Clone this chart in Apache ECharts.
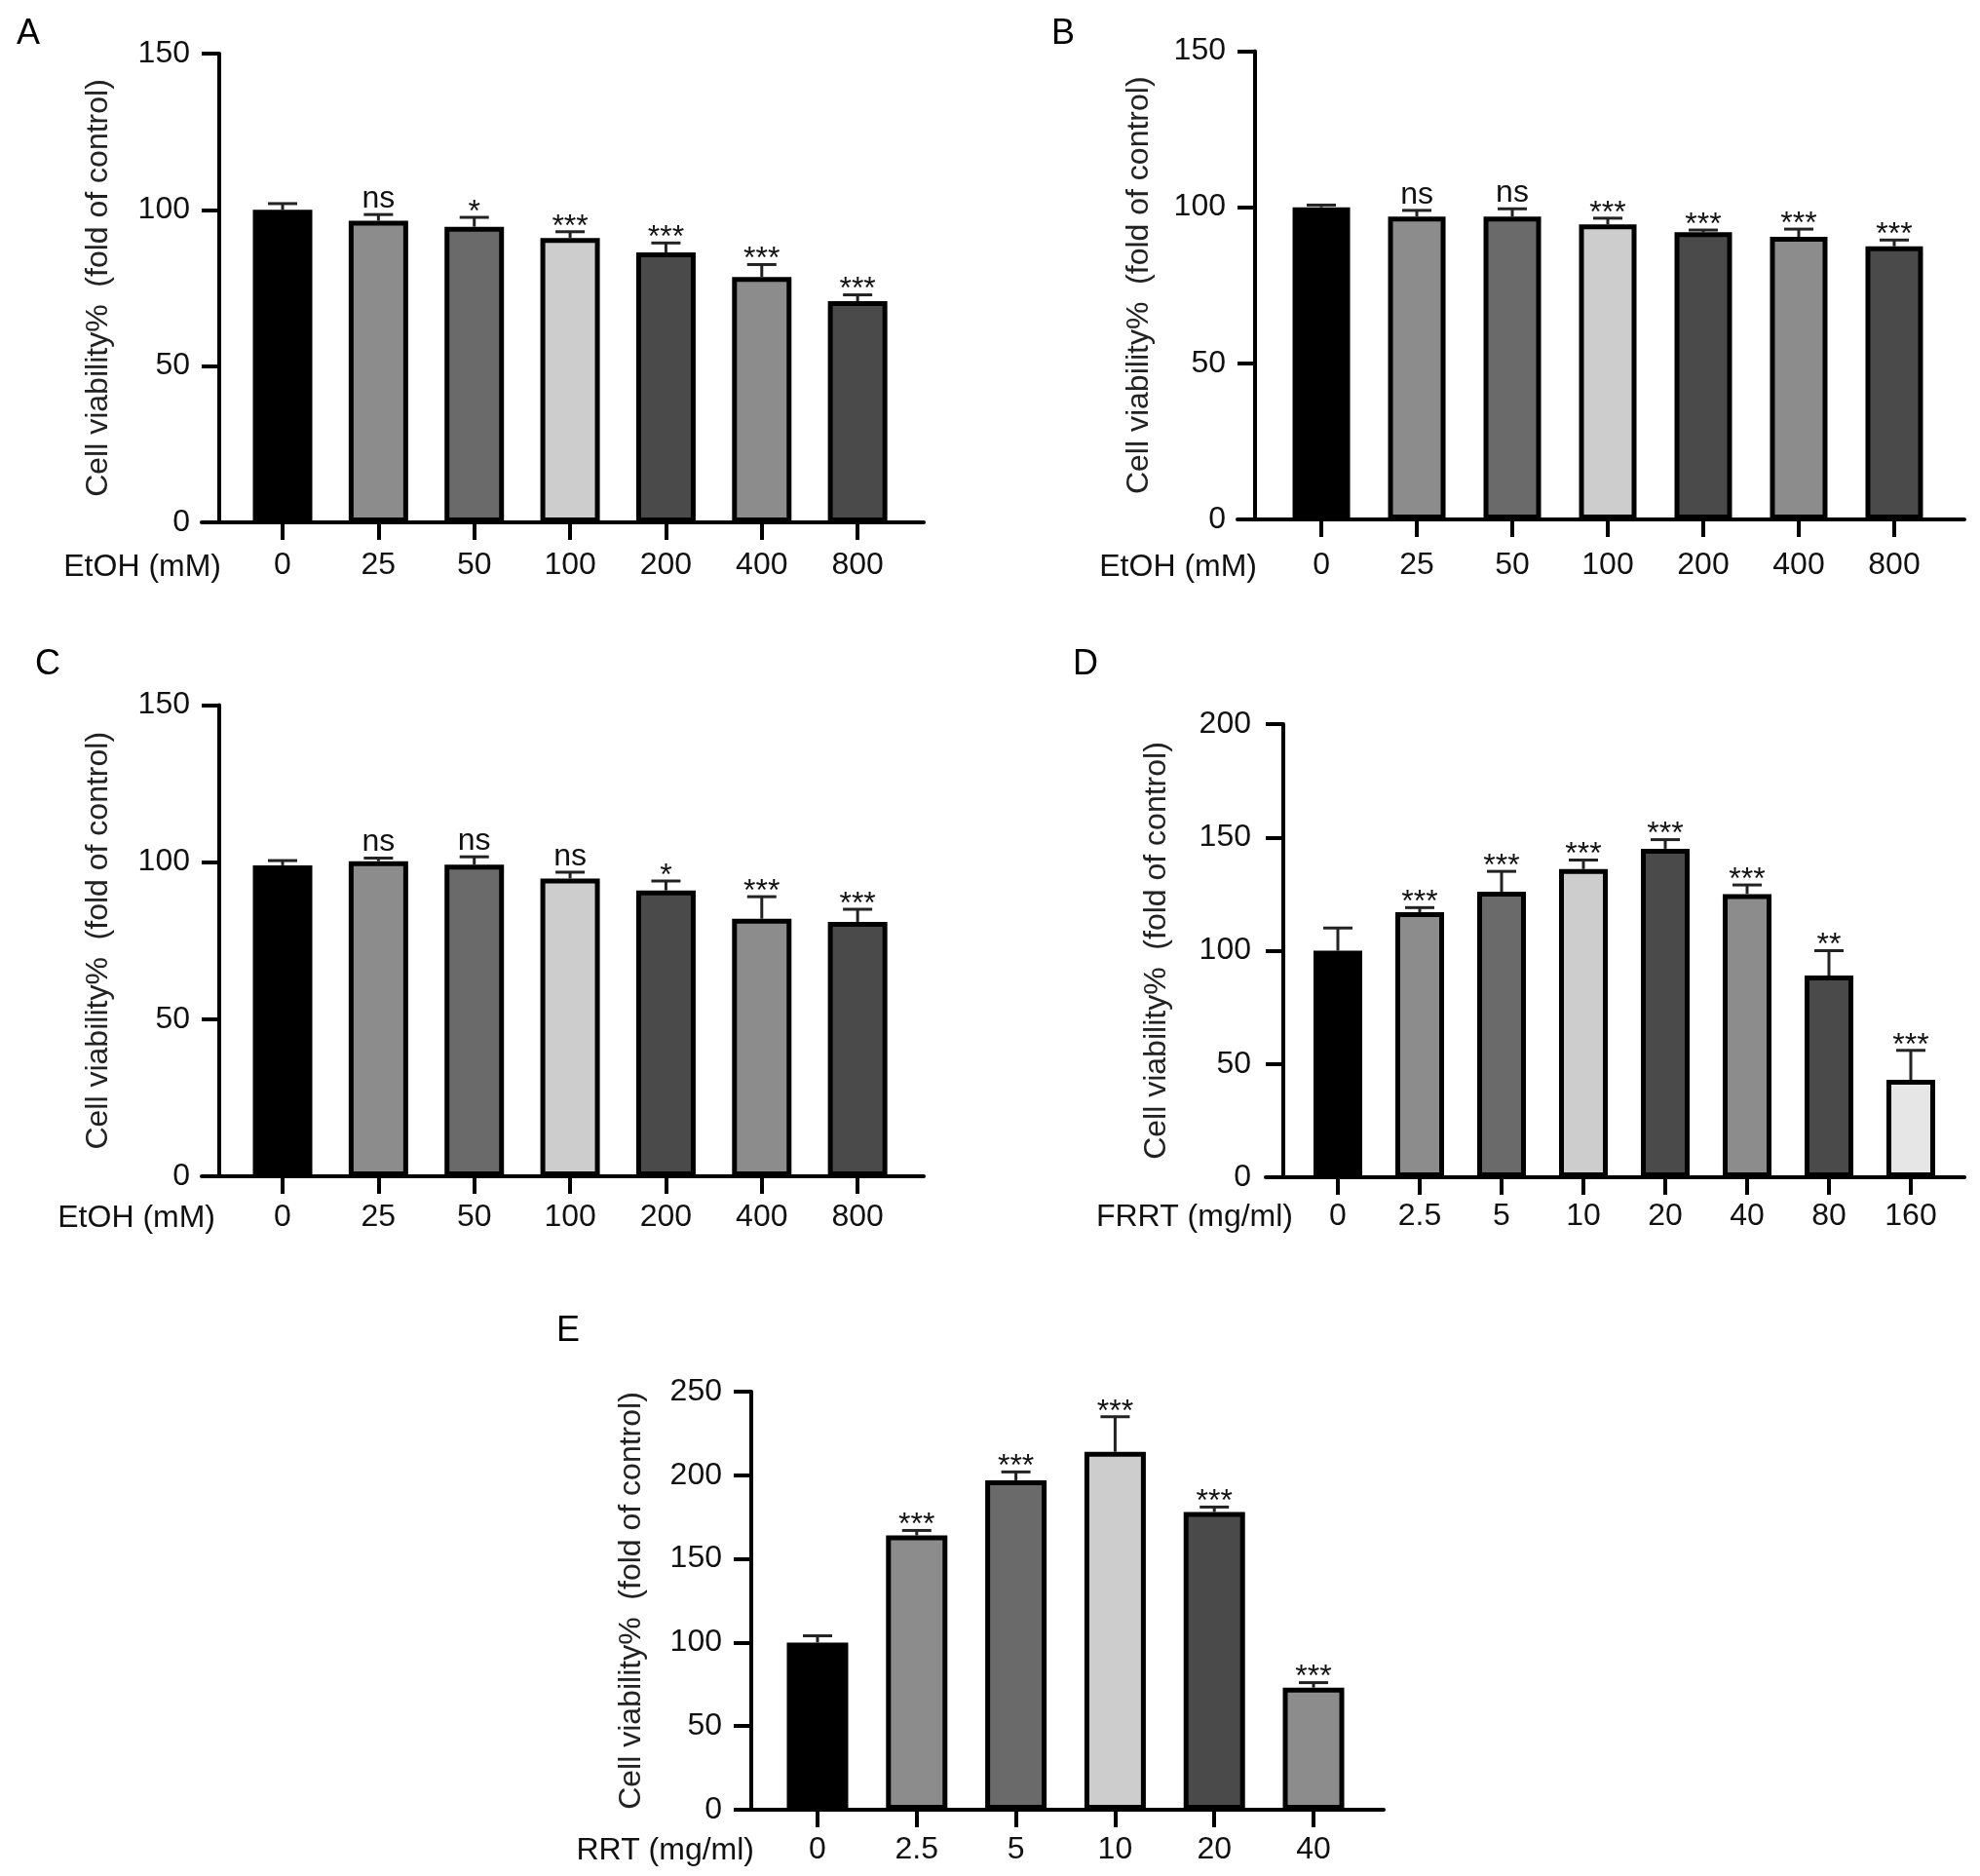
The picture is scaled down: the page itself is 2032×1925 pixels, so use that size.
<!DOCTYPE html>
<html>
<head>
<meta charset="utf-8">
<script src="https://cdn.jsdelivr.net/npm/echarts@6/dist/echarts.min.js"></script>
<style>
html,body{margin:0;padding:0;background:#fff;}
#chart{width:2032px;height:1925px;}
</style>
</head>
<body>
<div id="chart"></div>
<script>
// ---------- DATA ----------
const catsEtOH = ['0', '25', '50', '100', '200', '400', '800'];
const catsFRRT = ['0', '2.5', '5', '10', '20', '40', '80', '160'];
const catsRRT  = ['0', '2.5', '5', '10', '20', '40'];

const valsA = [100, 96.5, 94.6, 91, 86.4, 78.5, 70.8];
const errsA = [2, 2, 3, 2, 3, 4, 2];
const sigA  = ['', 'ns', '*', '***', '***', '***', '***'];

const valsB = [100, 97, 97, 94.5, 92, 90.5, 87.5];
const errsB = [0.7, 2, 2.5, 2, 0.7, 2.5, 2];
const sigB  = ['', 'ns', 'ns', '***', '***', '***', '***'];

const valsC = [99, 100.3, 99.2, 94.8, 91, 82, 81];
const errsC = [1.5, 1, 2.5, 2, 3, 7, 4];
const sigC  = ['', 'ns', 'ns', 'ns', '*', '***', '***'];

const valsD = [100, 117, 126, 136, 145, 125, 89, 43];
const errsD = [10, 2, 9, 4, 4, 4, 11, 13];
const sigD  = ['', '***', '***', '***', '***', '***', '**', '***'];

const valsE = [100, 164, 197, 214, 178, 73];
const errsE = [4, 3, 5, 21, 3, 3];
const sigE  = ['', '***', '***', '***', '***', '***'];

const yTitle = 'Cell viability%  (fold of control)';

// ---------- STYLES / LAYOUT ----------
const FONT = '"Liberation Sans", Arial, Helvetica, sans-serif';
const shades = ['#000000', '#8c8c8c', '#6a6a6a', '#cdcdcd', '#4a4a4a', '#8c8c8c', '#4a4a4a', '#e6e6e6'];

const panels = [
  {letter: 'A', cats: catsEtOH, vals: valsA, errs: errsA, sig: sigA, xName: 'EtOH (mM)', ymax: 150,
   grid: {left: 207, top: 55, width: 741, height: 481}, xmin: -0.844, xmax: 6.69, yOff: -18,
   barW: 61, nameGap: 108, labMargin: 28, yLabMargin: 30, letterPos: [29, 35], xNameRight: 227, xNameY: 582},
  {letter: 'B', cats: catsEtOH, vals: valsB, errs: errsB, sig: sigB, xName: 'EtOH (mM)', ymax: 150,
   grid: {left: 1270, top: 52.5, width: 746, height: 480.5}, xmin: -0.878, xmax: 6.735, yOff: -18,
   barW: 59, nameGap: 103, labMargin: 31, yLabMargin: 30, letterPos: [1091, 35], xNameRight: 1290, xNameY: 582},
  {letter: 'C', cats: catsEtOH, vals: valsC, errs: errsC, sig: sigC, xName: 'EtOH (mM)', ymax: 150,
   grid: {left: 207, top: 723.5, width: 741, height: 483.5}, xmin: -0.844, xmax: 6.69, yOff: -18,
   barW: 61, nameGap: 108, labMargin: 26, yLabMargin: 30, letterPos: [49, 682], xNameRight: 221, xNameY: 1250},
  {letter: 'D', cats: catsFRRT, vals: valsD, errs: errsD, sig: sigD, xName: 'FRRT (mg/ml)', ymax: 200,
   grid: {left: 1299, top: 743, width: 717, height: 465}, xmin: -0.881, xmax: 7.655, yOff: -18,
   barW: 50, nameGap: 114, labMargin: 24, yLabMargin: 33, letterPos: [1114, 682], xNameRight: 1327, xNameY: 1249},
  {letter: 'E', cats: catsRRT, vals: valsE, errs: errsE, sig: sigE, xName: 'RRT (mg/ml)', ymax: 250,
   grid: {left: 755, top: 1428, width: 665, height: 429}, xmin: -0.825, xmax: 5.707, yOff: -16,
   barW: 63, nameGap: 107, labMargin: 25, yLabMargin: 30, letterPos: [583, 1366], xNameRight: 774, xNameY: 1899}
];

const chart = echarts.init(document.getElementById('chart'), null, {renderer: 'canvas'});

const option = {
  backgroundColor: '#ffffff',
  animation: false,
  textStyle: {fontFamily: FONT},
  grid: [], xAxis: [], yAxis: [], series: [], graphic: []
};

panels.forEach((p, k) => {
  option.grid.push(Object.assign({containLabel: false}, p.grid));
  const idx = p.cats.map((c, i) => i);
  option.xAxis.push({
    type: 'value', gridIndex: k, min: p.xmin, max: p.xmax,
    splitLine: {show: false},
    axisLine: {show: true, onZero: false, lineStyle: {color: '#000', width: 4}},
    axisTick: {show: true, customValues: idx, length: 18, lineStyle: {color: '#000', width: 4}},
    axisLabel: {show: true, customValues: idx, margin: p.labMargin, fontSize: 32, color: '#111',
      fontFamily: FONT, formatter: v => p.cats[Math.round(v)]}
  });
  option.yAxis.push({
    type: 'value', gridIndex: k, min: 0, max: p.ymax, interval: 50, offset: p.yOff,
    splitLine: {show: false},
    axisLine: {show: true, onZero: false, lineStyle: {color: '#000', width: 4}},
    axisTick: {show: true, length: 18, lineStyle: {color: '#000', width: 4}},
    axisLabel: {fontSize: 32, color: '#111', margin: p.yLabMargin, fontFamily: FONT},
    name: yTitle, nameLocation: 'middle', nameRotate: 90, nameGap: p.nameGap,
    nameTextStyle: {fontSize: 32, color: '#222', fontFamily: FONT}
  });
  option.series.push({
    type: 'bar', xAxisIndex: k, yAxisIndex: k, barWidth: p.barW,
    data: p.vals.map((v, i) => ({value: [i, v], itemStyle: {color: shades[i]}})),
    itemStyle: {borderColor: '#000', borderWidth: 5}
  });
  option.series.push({
    type: 'custom', xAxisIndex: k, yAxisIndex: k, z: 3,
    data: p.vals.map((v, i) => [i, v, p.errs[i]]),
    renderItem: (params, api) => {
      const x = api.value(0), v = api.value(1), e = api.value(2);
      const p0 = api.coord([x, v]);
      const p1 = api.coord([x, v + e]);
      const half = 15;
      const children = [
        {type: 'line', shape: {x1: p0[0], y1: p0[1], x2: p1[0], y2: p1[1]}, style: {stroke: '#222', lineWidth: 3}},
        {type: 'line', shape: {x1: p1[0] - half, y1: p1[1], x2: p1[0] + half, y2: p1[1]}, style: {stroke: '#222', lineWidth: 3}}
      ];
      const s = p.sig[params.dataIndex];
      if (s) {
        const off = s === 'ns' ? 16 : 5;
        children.push({type: 'text', x: p1[0], y: p1[1] - off,
          style: {text: s, font: '32px ' + FONT, align: 'center', verticalAlign: 'middle', fill: '#111'}});
      }
      return {type: 'group', children};
    }
  });
  option.graphic.push({type: 'text', x: p.letterPos[0], y: p.letterPos[1],
    style: {text: p.letter, font: '36px ' + FONT, align: 'center', verticalAlign: 'middle', fill: '#000'}});
  option.graphic.push({type: 'text', x: p.xNameRight, y: p.xNameY,
    style: {text: p.xName, font: '32px ' + FONT, align: 'right', verticalAlign: 'middle', fill: '#111'}});
});

chart.setOption(option);
</script>
</body>
</html>
